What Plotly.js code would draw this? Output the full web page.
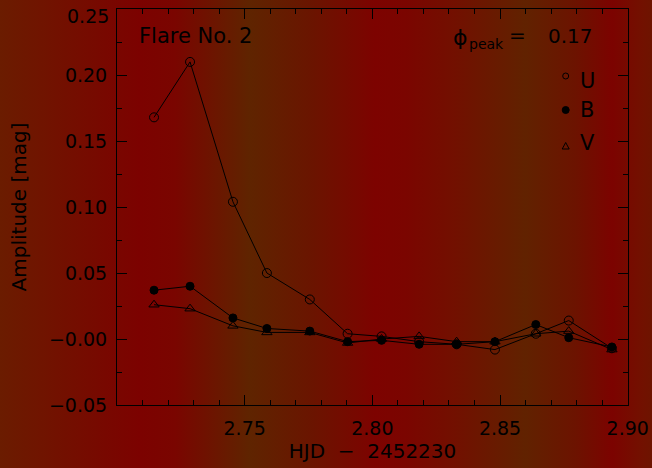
<!DOCTYPE html>
<html>
<head>
<meta charset="utf-8">
<script src="https://cdn.plot.ly/plotly-3.0.1.min.js"></script>
<style>
  html, body { margin: 0; padding: 0; }
  body {
    width: 652px; height: 468px; overflow: hidden;
    background: linear-gradient(to right,
      #6b1c00 0px, #780800 105px, #7c0200 140px, #7a0500 175px,
      #5f2400 250px, #6a1500 310px, #7d0300 375px, #7b0500 405px,
      #721000 455px, #612200 525px, #6c1300 575px, #7c0300 612px,
      #731000 640px, #6e1400 652px);
  }
  #chart { width: 652px; height: 468px; }
</style>
</head>
<body>
<div id="chart"></div>
<script>
// ---- data ----
var hjd = [2.7145, 2.7286, 2.7454, 2.7587, 2.7755, 2.7903, 2.8036, 2.8183, 2.8330, 2.8480, 2.8640, 2.8769, 2.8938];
var ampU = [0.168, 0.210, 0.104, 0.050, 0.030, 0.004, 0.002, -0.002, -0.004, -0.008, 0.004, 0.014, -0.007];
var ampB = [0.037, 0.040, 0.016, 0.008, 0.006, -0.002, -0.001, -0.004, -0.004, -0.002, 0.011, 0.001, -0.006];
var ampV = [0.026, 0.023, 0.010, 0.005, 0.005, -0.003, 0.000, 0.002, -0.002, -0.002, 0.004, 0.006, -0.008];
var xTickVals = [2.75, 2.80, 2.85, 2.90];
var xTickText = ['2.75', '2.80', '2.85', '2.90'];
var yTickVals = [-0.05, 0.00, 0.05, 0.10, 0.15, 0.20];
var yTickText = ['\u22120.05', '\u22120.00', '0.05', '0.10', '0.15', '0.20'];
var yTopLabel = '0.25';   // top tick label, nudged down inside the figure like the reference
var flareLabel = 'Flare No. 2';
var phasePeak = '0.17';

// ---- layout helpers (plot area 117..628 x 9..405) ----
var L = 117, R = 628, T = 9, B = 405;
function px(xp) { return (xp - L) / (R - L); }
function py(yp) { return (B - yp) / (B - T); }

var FONT = 'DejaVu Sans';
var ink = '#000000';

function series(y, symbol, size) {
  return {
    x: hjd, y: y, type: 'scatter', mode: 'lines+markers',
    line: { color: ink, width: 1 },
    marker: { symbol: symbol, size: size, color: ink, line: { color: ink, width: 1 } },
    showlegend: false, hoverinfo: 'skip'
  };
}

var traces = [
  series(ampU, 'circle-open', 9),
  series(ampB, 'circle', 8),
  series(ampV, 'triangle-up-open', 9)
];

var cr = 3; // legend marker radius px
var shapes = [
  { type: 'circle', xref: 'paper', yref: 'paper',
    x0: px(565.7 - cr), x1: px(565.7 + cr), y0: py(76 + cr), y1: py(76 - cr),
    line: { color: ink, width: 1 }, fillcolor: 'rgba(0,0,0,0)' },
  { type: 'circle', xref: 'paper', yref: 'paper',
    x0: px(565.7 - 3.5), x1: px(565.7 + 3.5), y0: py(110 + 3.5), y1: py(110 - 3.5),
    line: { color: ink, width: 1 }, fillcolor: ink },
  { type: 'path', xref: 'paper', yref: 'paper',
    path: 'M ' + px(562.2) + ' ' + py(149) + ' L ' + px(569.2) + ' ' + py(149) +
          ' L ' + px(565.7) + ' ' + py(142.5) + ' Z',
    line: { color: ink, width: 1 }, fillcolor: 'rgba(0,0,0,0)' }
];

function ann(text, xp, yp, xanchor, size) {
  return { text: text, xref: 'paper', yref: 'paper', x: px(xp), y: py(yp),
    xanchor: xanchor, yanchor: 'middle', showarrow: false,
    font: { family: FONT, size: size, color: ink } };
}

var annotations = [
  ann(yTopLabel, 111, 16, 'right', 19),
  ann(flareLabel, 137, 36, 'left', 21),
  ann('\u03d5', 451, 37, 'left', 22),
  ann('peak', 467, 44, 'left', 14),
  ann('=', 517, 35, 'center', 20),
  ann(phasePeak, 546, 36, 'left', 20),
  ann('U', 578, 81, 'left', 21),
  ann('B', 578, 110, 'left', 21),
  ann('V', 578, 143, 'left', 21)
];

var axisCommon = {
  showgrid: false, zeroline: false,
  showline: true, linecolor: ink, linewidth: 1, mirror: 'ticks',
  ticks: 'inside', ticklen: 10, tickwidth: 1, tickcolor: ink,
  tickmode: 'array', ticklabeloverflow: 'allow',
  tickfont: { family: FONT, size: 19, color: ink }
};

var layout = {
  width: 652, height: 468,
  margin: { l: L, r: 652 - R, t: T, b: 468 - B, pad: 0 },
  paper_bgcolor: 'rgba(0,0,0,0)',
  plot_bgcolor: 'rgba(0,0,0,0)',
  showlegend: false,
  font: { family: FONT, color: ink },
  xaxis: Object.assign({}, axisCommon, {
    range: [2.70, 2.9001],
    tickvals: xTickVals, ticktext: xTickText,
    ticklabelstandoff: 6,
    minor: { tickmode: 'linear', tick0: 2.70, dtick: 0.01, ticks: 'inside', ticklen: 5, tickwidth: 1, tickcolor: ink, showgrid: false },
    title: { text: 'HJD\u00a0\u00a0\u2212\u00a0\u00a02452230', font: { family: FONT, size: 20, color: ink }, standoff: 6 }
  }),
  yaxis: Object.assign({}, axisCommon, {
    range: [-0.05, 0.2501],
    tickvals: yTickVals, ticktext: yTickText,
    ticklabelstandoff: 5,
    minor: { tickmode: 'linear', tick0: -0.05, dtick: 0.025, ticks: 'inside', ticklen: 5, tickwidth: 1, tickcolor: ink, showgrid: false },
    title: { text: 'Amplitude [mag]', font: { family: FONT, size: 20, color: ink }, standoff: 16 }
  }),
  shapes: shapes,
  annotations: annotations
};

Plotly.newPlot('chart', traces, layout, { displayModeBar: false, staticPlot: true });
</script>
</body>
</html>
